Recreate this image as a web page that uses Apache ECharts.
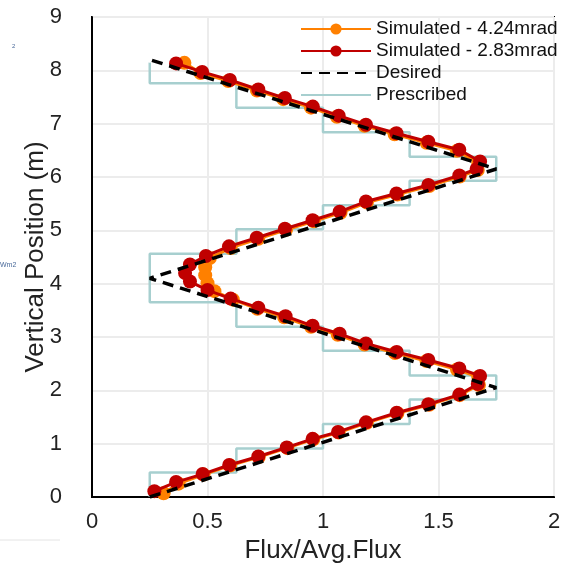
<!DOCTYPE html>
<html>
<head>
<meta charset="utf-8">
<script src="https://cdn.jsdelivr.net/npm/echarts@6/dist/echarts.min.js"></script>
<style>
html,body{margin:0;padding:0;background:#fff;}
#chart{width:580px;height:566px;}
</style>
</head>
<body>
<div id="chart"></div>
<script>
// ---- data ----
const xTicks = [0, 0.5, 1, 1.5, 2];
const yTicks = [0, 1, 2, 3, 4, 5, 6, 7, 8, 9];

const sim283X = [0.27,0.364,0.479,0.594,0.72,0.843,0.955,1.065,1.186,1.319,1.456,1.59,1.67,1.68,1.59,1.456,1.319,1.186,1.072,0.955,0.838,0.72,0.60,0.50,0.424,0.403,0.424,0.493,0.593,0.713,0.835,0.955,1.072,1.186,1.318,1.456,1.59,1.665,1.68,1.59,1.456,1.318,1.186,1.068,0.956,0.835,0.72,0.597,0.477,0.364];
const sim283Y = [0.11,0.28,0.43,0.60,0.76,0.93,1.09,1.22,1.40,1.58,1.74,1.92,2.12,2.27,2.41,2.57,2.72,2.88,3.06,3.21,3.39,3.55,3.72,3.88,4.04,4.20,4.36,4.52,4.70,4.86,5.03,5.19,5.35,5.54,5.69,5.85,6.03,6.15,6.29,6.51,6.66,6.82,6.98,7.15,7.32,7.48,7.64,7.82,7.97,8.13];

const sim424X = [0.31,0.375,0.483,0.598,0.722,0.846,0.958,1.068,1.19,1.322,1.46,1.592,1.675,1.672,1.58,1.448,1.312,1.18,1.064,0.948,0.832,0.716,0.61,0.53,0.50,0.49,0.49,0.51,0.60,0.72,0.84,0.96,1.076,1.19,1.322,1.46,1.592,1.67,1.672,1.58,1.448,1.31,1.18,1.06,0.948,0.828,0.714,0.59,0.47,0.40];
const sim424Y = [0.07,0.25,0.42,0.59,0.75,0.92,1.08,1.21,1.39,1.57,1.73,1.91,2.10,2.25,2.39,2.55,2.70,2.86,3.04,3.19,3.37,3.53,3.70,3.86,4.01,4.16,4.31,4.48,4.67,4.84,5.01,5.17,5.33,5.52,5.67,5.83,6.01,6.13,6.27,6.49,6.64,6.80,6.96,7.13,7.30,7.46,7.62,7.80,7.95,8.14];

const desiredX = [0.25, 1.75, 0.25, 1.75, 0.25];
const desiredY = [0, 2.05, 4.1, 6.15, 8.2];

const prescribedBounds = [0,0.46,0.91,1.37,1.83,2.28,2.74,3.19,3.65,4.10,4.56,5.02,5.47,5.93,6.38,6.84,7.30,7.76,8.21];
const prescribedLevels = [0.25,0.625,1.0,1.375,1.75,1.375,1.0,0.625,0.25,0.25,0.625,1.0,1.375,1.75,1.375,1.0,0.625,0.25];

const legendNames = ['Simulated - 4.24mrad', 'Simulated - 2.83mrad', 'Desired', 'Prescribed'];

// ---- build ----
const pairs = (xs, ys) => xs.map((x, i) => [x, ys[i]]);
const prescribedPath = [];
prescribedLevels.forEach((lv, i) => {
  prescribedPath.push([lv, prescribedBounds[i]]);
  prescribedPath.push([lv, prescribedBounds[i + 1]]);
});
const lastP = prescribedPath.pop();
prescribedPath.push({value: lastP, symbol: 'emptyCircle', symbolSize: 5,
  itemStyle: {color: '#fff', borderColor: '#333', borderWidth: 1.2}});

const FONT = 'Liberation Sans, Arial, sans-serif';
const chart = echarts.init(document.getElementById('chart'), null, {renderer: 'canvas'});
chart.setOption({
  animation: false,
  backgroundColor: '#fff',
  grid: {left: 92, right: 26, top: 17, bottom: 69, show: true, borderColor: '#000', borderWidth: 2,
         backgroundColor: 'transparent', outerBoundsMode: 'none', containLabel: false},
  xAxis: {
    type: 'value', min: xTicks[0], max: xTicks[xTicks.length - 1], interval: 0.5,
    name: 'Flux/Avg.Flux', nameLocation: 'middle', nameGap: 41, nameMoveOverlap: false,
    nameTextStyle: {fontFamily: FONT, fontSize: 26, color: '#222'},
    axisLine: {show: true, lineStyle: {color: '#000', width: 2}},
    axisTick: {show: false},
    axisLabel: {fontFamily: FONT, fontSize: 22, color: '#222', margin: 14},
    splitLine: {show: true, lineStyle: {color: '#ececec', width: 2}}
  },
  yAxis: {
    type: 'value', min: yTicks[0], max: yTicks[yTicks.length - 1], interval: 1,
    name: 'Vertical Position (m)', nameLocation: 'middle', nameGap: 43, nameMoveOverlap: false,
    nameTextStyle: {fontFamily: FONT, fontSize: 26, color: '#222'},
    axisLine: {show: true, lineStyle: {color: '#000', width: 2}},
    axisTick: {show: false},
    axisLabel: {fontFamily: FONT, fontSize: 22, color: '#222', margin: 30},
    splitLine: {show: true, lineStyle: {color: '#ececec', width: 2}}
  },
  legend: {
    orient: 'vertical', left: 300, top: 19, padding: 0,
    itemWidth: 70, itemHeight: 14, itemGap: 2,
    data: [
      {name: legendNames[0]},
      {name: legendNames[1]},
      {name: legendNames[2], itemStyle: {opacity: 0}},
      {name: legendNames[3], itemStyle: {opacity: 0}}
    ],
    textStyle: {fontFamily: FONT, fontSize: 19, color: '#111', lineHeight: 20}
  },
  series: [
    {
      name: legendNames[3], type: 'line', z: 1, data: prescribedPath,
      symbol: 'none', showSymbol: true,
      lineStyle: {color: '#a7cfcf', width: 2.5}, itemStyle: {color: '#a7cfcf'}
    },
    {
      name: legendNames[0], type: 'line', z: 2, data: pairs(sim424X, sim424Y),
      symbol: 'circle', symbolSize: 14,
      lineStyle: {color: '#ff8000', width: 3}, itemStyle: {color: '#ff8000'}
    },
    {
      name: legendNames[1], type: 'line', z: 3, data: pairs(sim283X, sim283Y),
      symbol: 'circle', symbolSize: 14,
      lineStyle: {color: '#c00000', width: 3}, itemStyle: {color: '#c00000'}
    },
    {
      name: legendNames[2], type: 'line', z: 4, data: pairs(desiredX, desiredY),
      symbol: 'none',
      lineStyle: {color: '#000', width: 3.5, type: [11, 7]}, itemStyle: {color: '#000'}
    }
  ],
  graphic: [
    {type: 'text', left: 0, top: 262, style: {text: 'Wm2', fontSize: 7, fill: '#4a6a9a', fontFamily: FONT}},
    {type: 'text', left: 12, top: 43, style: {text: '2', fontSize: 6, fill: '#4a6a9a', fontFamily: FONT}},
    {type: 'line', shape: {x1: 0, y1: 540, x2: 60, y2: 540}, style: {stroke: '#e4e4e4', lineWidth: 1}}
  ]
});
</script>
</body>
</html>
